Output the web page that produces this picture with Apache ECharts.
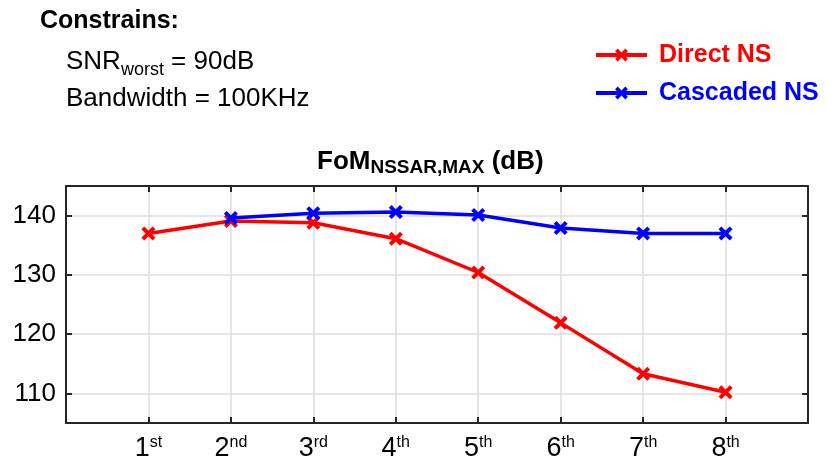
<!DOCTYPE html>
<html><head><meta charset="utf-8">
<script src="https://cdn.jsdelivr.net/npm/echarts@6/dist/echarts.min.js"></script>
<style>html,body{margin:0;padding:0;background:#fff}#c{width:827px;height:457px}</style>
</head><body><div id="c"></div>
<script>
// ---- data ----
const categories = ['1st', '2nd', '3rd', '4th', '5th', '6th', '7th', '8th'];
const catNum = ['1', '2', '3', '4', '5', '6', '7', '8'];
const catSup = ['st', 'nd', 'rd', 'th', 'th', 'th', 'th', 'th'];
const directNS = [137.0, 139.1, 138.8, 136.1, 130.4, 121.9, 113.3, 110.2];
const cascadedNS = [null, 139.6, 140.4, 140.6, 140.1, 137.9, 137.0, 137.0];
const yTicks = [110, 120, 130, 140];
const seriesNames = ['Direct NS', 'Cascaded NS'];

// ---- helpers ----
function toPoints(vals) {
  const out = [];
  vals.forEach((v, i) => { if (v !== null) out.push([i + 1, v]); });
  return out;
}
const FONT = 'Liberation Sans, Arial, Helvetica, sans-serif';
const AXC = '#262626';
const GRID = '#dedede';
const XSYM = 'path://M2,0L5,3L8,0L10,2L7,5L10,8L8,10L5,7L2,10L0,8L3,5L0,2Z';

const chart = echarts.init(document.getElementById('c'), null, {renderer: 'canvas'});

const xBase = {
  type: 'value', min: 0, max: 9, interval: 1,
  axisLine: {show: true, onZero: false, lineStyle: {color: AXC, width: 2}},
  axisTick: {show: true, inside: true, length: 6, lineStyle: {color: AXC, width: 2}},
};
const yBase = {
  type: 'value', min: 105, max: 145, interval: 5,
  axisLine: {show: true, onZero: false, lineStyle: {color: AXC, width: 2}},
  axisTick: {show: true, inside: true, length: 6, customValues: yTicks, lineStyle: {color: AXC, width: 2}},
};

chart.setOption({
  animation: false,
  backgroundColor: '#fff',
  textStyle: {fontFamily: FONT},
  title: {
    text: '{a|FoM}{b|NSSAR,MAX}{a| (dB)}',
    left: 317, top: 147, padding: 0,
    textStyle: {
      rich: {
        a: {fontFamily: FONT, fontSize: 26, fontWeight: 'bold', color: '#000', lineHeight: 30},
        b: {fontFamily: FONT, fontSize: 19, fontWeight: 'bold', color: '#000', lineHeight: 17, verticalAlign: 'bottom'}
      }
    }
  },
  legend: {
    orient: 'vertical', left: 594, top: 41, padding: 0,
    itemWidth: 51, itemHeight: 16, itemGap: 10,
    lineStyle: {width: 4},
    data: [
      {name: seriesNames[0], textStyle: {color: '#ff0000'}},
      {name: seriesNames[1], textStyle: {color: '#0000ff'}}
    ],
    textStyle: {fontFamily: FONT, fontSize: 25, fontWeight: 'bold', lineHeight: 26, padding: [2, 0, 0, 7]}
  },
  graphic: [
    {type: 'text', left: 40, top: 9, style: {text: 'Constrains:', font: 'bold 25px ' + FONT, fill: '#000'}},
    {type: 'text', left: 66, top: 49, style: {
      text: '{a|SNR}{b|worst}{a| = 90dB}',
      rich: {
        a: {fontFamily: FONT, fontSize: 26, lineHeight: 34, fill: '#000'},
        b: {fontFamily: FONT, fontSize: 18, lineHeight: 18, verticalAlign: 'bottom', fill: '#000'}
      }
    }},
    {type: 'text', left: 66, top: 86, style: {text: 'Bandwidth = 100KHz', font: '26px ' + FONT, fill: '#000'}}
  ],
  grid: {left: 66, right: 19, top: 186, bottom: 34, containLabel: false, outerBoundsMode: 'none'},
  xAxis: [
    Object.assign({}, xBase, {
      position: 'bottom',
      splitLine: {show: true, lineStyle: {color: GRID, width: 1.5}},
      axisLabel: {
        show: true, margin: 12,
        formatter: function (v) {
          const i = Math.round(v) - 1;
          if (i < 0 || i >= categories.length) return '';
          return '{n|' + catNum[i] + '}{s|' + catSup[i] + '}';
        },
        rich: {
          n: {fontFamily: FONT, fontSize: 27, lineHeight: 28, color: '#000'},
          s: {fontFamily: FONT, fontSize: 16, lineHeight: 19, verticalAlign: 'top', color: '#000'}
        }
      }
    }),
    Object.assign({}, xBase, {position: 'top', axisLabel: {show: false}, splitLine: {show: false}})
  ],
  yAxis: [
    Object.assign({}, yBase, {
      position: 'left',
      splitLine: {show: true, lineStyle: {color: GRID, width: 1.5}},
      axisLabel: {show: true, margin: 10, customValues: yTicks, fontFamily: FONT, fontSize: 26, color: '#000'}
    }),
    Object.assign({}, yBase, {position: 'right', axisLabel: {show: false}, splitLine: {show: false}})
  ],
  series: [
    {
      name: seriesNames[0], type: 'line', xAxisIndex: 0, yAxisIndex: 0,
      data: toPoints(directNS),
      color: '#ff0000',
      lineStyle: {color: '#ff0000', width: 3.5},
      itemStyle: {color: '#ff0000'},
      symbol: XSYM, symbolSize: 14, showAllSymbol: true, z: 3
    },
    {
      name: seriesNames[1], type: 'line', xAxisIndex: 0, yAxisIndex: 0,
      data: toPoints(cascadedNS),
      color: '#0000ff',
      lineStyle: {color: '#0000ff', width: 3.5},
      itemStyle: {color: '#0000ff'},
      symbol: XSYM, symbolSize: 14, showAllSymbol: true, z: 4
    }
  ]
});
</script>
</body></html>
